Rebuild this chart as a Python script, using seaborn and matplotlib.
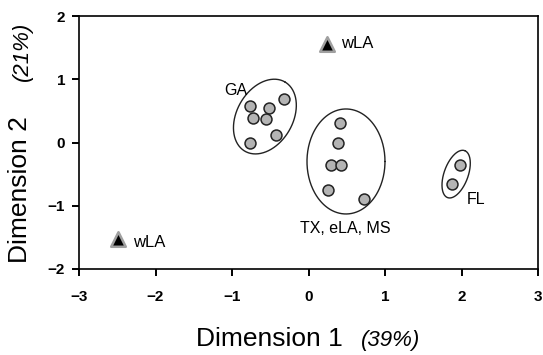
import numpy as np
import pandas as pd
import matplotlib
matplotlib.use("Agg")
import matplotlib.pyplot as plt
import seaborn as sns

# ---- data ----
group_x = [-0.76, -0.51, -0.32, -0.73, -0.55, -0.43, -0.76,
           0.41, 0.39, 0.29, 0.42, 0.25, 0.72,
           1.98, 1.88]
group_y = [0.58, 0.55, 0.68, 0.38, 0.37, 0.12, -0.01,
           0.31, 0.00, -0.35, -0.35, -0.75, -0.89,
           -0.36, -0.66]
group_name = ["GA"] * 7 + ["TX"] * 6 + ["FL"] * 2
wla_x = [0.24, -2.49]
wla_y = [1.56, -1.53]

x_ticks = [-3, -2, -1, 0, 1, 2, 3]
y_ticks = [-2, -1, 0, 1, 2]

sns.set_theme(style="ticks", rc={
    "xtick.major.size": 5, "ytick.major.size": 5,
    "xtick.major.width": 1.4, "ytick.major.width": 1.4,
    "xtick.color": "black", "ytick.color": "black",
    "xtick.labelcolor": "black", "ytick.labelcolor": "black",
    "xtick.major.pad": 10, "ytick.major.pad": 5,
    "xtick.direction": "out", "ytick.direction": "out",
    "axes.edgecolor": "black", "axes.linewidth": 1.2,
    "text.color": "black",
})
plt.rcParams["font.family"] = ["Liberation Sans", "DejaVu Sans"]

W, H = 543, 355
fig = plt.figure(figsize=(W / 100, H / 100), dpi=100)
ax = fig.add_axes([79 / W, 1 - 269 / H, (538 - 79) / W, (269 - 16) / H])

df = pd.DataFrame({"x": group_x, "y": group_y, "g": group_name})
sns.scatterplot(data=df, x="x", y="y", ax=ax, s=62, color="#b4b4b4",
                edgecolor="#222222", linewidth=1.1, legend=False, zorder=3)
wdf = pd.DataFrame({"x": wla_x, "y": wla_y})
sns.scatterplot(data=wdf, x="x", y="y", ax=ax, marker="^", s=110, color="black",
                edgecolor="#a0a0a0", linewidth=1.8, legend=False, zorder=3)

ax.set_xlim(-3, 3)
ax.set_ylim(-2, 2)

# ellipses defined in pixel space (semi-major, semi-minor, angle) around centers
px_x = (538 - 79) / 6.0
px_y = (269 - 16) / 4.0
def ellipse(cx, cy, a, b, ang):
    t = np.linspace(0, 2 * np.pi, 300)
    u = a * np.cos(t)
    v = b * np.sin(t)
    th = np.deg2rad(ang)
    ur = u * np.cos(th) - v * np.sin(th)
    vr = u * np.sin(th) + v * np.cos(th)
    ax.plot(cx + ur / px_x, cy + vr / px_y, color="#222222", lw=1.0, zorder=2)

ellipse(-0.57, 0.41, 40, 28, 60)
ellipse(0.49, -0.30, 39, 52.5, 0)
ellipse(1.93, -0.50, 25, 12, 70)

ax.text(-0.80, 0.82, "GA", fontsize=11.5, ha="right", va="center")
ax.text(0.48, -1.36, "TX, eLA, MS", fontsize=11.5, ha="center", va="center")
ax.text(2.07, -0.90, "FL", fontsize=11.5, ha="left", va="center")
ax.text(0.43, 1.56, "wLA", fontsize=12, ha="left", va="center")
ax.text(-2.30, -1.58, "wLA", fontsize=12, ha="left", va="center")

ax.set_xticks(x_ticks)
ax.set_yticks(y_ticks)
for lbl in ax.get_xticklabels() + ax.get_yticklabels():
    lbl.set_fontweight("bold")
    lbl.set_fontsize(11)
ax.set_xlabel("")
ax.set_ylabel("")

fig.text(269 / W, 1 - 346 / H, "Dimension 1", fontsize=19, ha="center", va="baseline")
fig.text(391 / W, 1 - 346 / H, "(39%)", fontsize=16, style="italic", ha="center", va="baseline")
fig.text(20 / W, 1 - 190 / H, "Dimension 2", fontsize=19, rotation=90, ha="center", va="center")
fig.text(22 / W, 1 - 51 / H, "(21%)", fontsize=16, style="italic", rotation=90, ha="center", va="center")

fig.savefig("out.png", dpi=100)
